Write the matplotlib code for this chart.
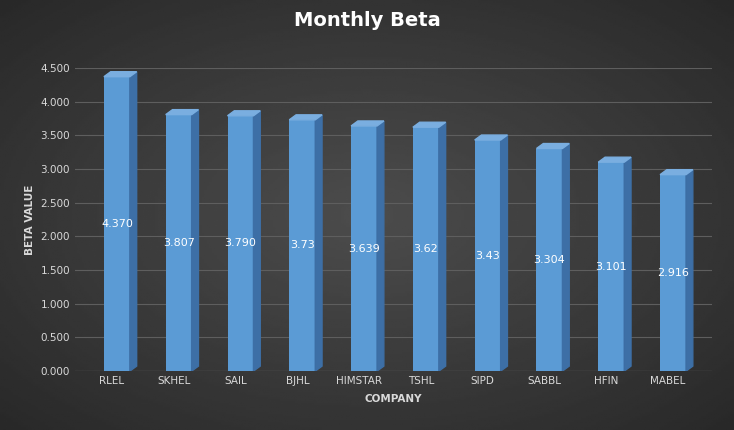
import numpy as np
import matplotlib.pyplot as plt
from matplotlib.patches import Polygon

companies = ['RLEL', 'SKHEL', 'SAIL', 'BJHL', 'HIMSTAR', 'TSHL', 'SIPD', 'SABBL', 'HFIN', 'MABEL']
beta = [4.370, 3.807, 3.790, 3.73, 3.639, 3.62, 3.43, 3.304, 3.101, 2.916]
beta_labels = ['4.370', '3.807', '3.790', '3.73', '3.639', '3.62', '3.43', '3.304', '3.101', '2.916']
yticks = [0, 0.5, 1, 1.5, 2, 2.5, 3, 3.5, 4, 4.5]

fig = plt.figure(figsize=(7.34, 4.30), dpi=100)

# radial gradient background
bg = fig.add_axes([0, 0, 1, 1], zorder=-10)
yy, xx = np.mgrid[-1:1:200j, -1:1:300j]
r = np.sqrt(xx ** 2 + yy ** 2)
bg.imshow(0.30 - 0.10 * r, cmap='gray', vmin=0, vmax=1, aspect='auto', extent=[0, 1, 0, 1])
bg.axis('off')

ax = fig.add_axes([0.102, 0.137, 0.868, 0.705])
ax.patch.set_alpha(0)
x = np.arange(len(companies))
xb = x + 0.08
w = 0.42
dx, dy = 0.11, 0.074

ax.bar(xb, beta, width=w, color='#5b9bd5', zorder=3)
for xi, v, lab in zip(xb, beta, beta_labels):
    l, rr = xi - w / 2, xi + w / 2
    ax.add_patch(Polygon([[rr, 0], [rr + dx, dy], [rr + dx, v + dy], [rr, v]],
                         closed=True, color='#3d6fa6', zorder=3))
    ax.add_patch(Polygon([[l, v], [l + dx, v + dy], [rr + dx, v + dy], [rr, v]],
                         closed=True, color='#7aaee0', zorder=3))
    ax.text(xi, v / 2, lab, color='white', ha='center', va='center', fontsize=8, zorder=4)

ax.set_xlim(-0.6, 9.71)
ax.set_ylim(0, 4.5)
ax.set_yticks(yticks)
ax.set_yticklabels([f'{t:.3f}' for t in yticks])
ax.set_xticks(x)
ax.set_xticklabels(companies)
ax.tick_params(colors='#d9d9d9', labelsize=7.5, length=0)
ax.grid(axis='y', color='#5e5e5e', linewidth=0.8, zorder=0)
for s in ax.spines.values():
    s.set_visible(False)
ax.axhline(0, color='#8a8a8a', linewidth=0.8, zorder=2)
ax.set_ylabel('BETA VALUE', color='#d9d9d9', fontsize=7.5, fontweight='bold')
ax.set_xlabel('COMPANY', color='#d9d9d9', fontsize=7.5, fontweight='bold', labelpad=6)

fig.text(0.5, 0.953, 'Monthly Beta', color='white', fontsize=14, fontweight='bold',
         ha='center', va='center')

fig.savefig('out.png', dpi=100)
